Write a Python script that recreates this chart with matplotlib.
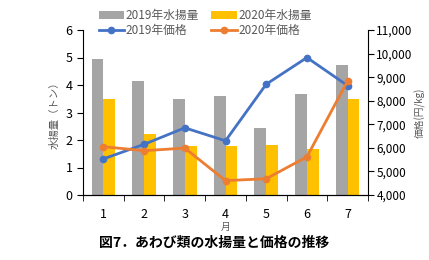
import matplotlib
matplotlib.use("Agg")
import matplotlib.pyplot as plt
import numpy as np

plt.rcParams['font.family'] = ['Noto Sans CJK JP', 'DejaVu Sans']

# データ
months = ["1", "2", "3", "4", "5", "6", "7"]
catch_2019 = [4.93, 4.13, 3.50, 3.60, 2.45, 3.68, 4.73]
catch_2020 = [3.49, 2.21, 1.80, 1.79, 1.81, 1.68, 3.50]
price_2019 = [5530, 6150, 6850, 6300, 8700, 9830, 8640]
price_2020 = [6050, 5880, 5990, 4610, 4690, 5620, 8840]

c_gray = "#A5A5A5"
c_yel = "#FFC000"
c_blue = "#4472C4"
c_orng = "#ED7D31"

fig = plt.figure(figsize=(4.29, 2.6), dpi=100)
ax = fig.add_axes([83/429, 1 - 195/260, 285/429, 165/260])
ax2 = ax.twinx()

x = np.arange(len(months))
w = 0.29
b1 = ax.bar(x - w/2, catch_2019, w, color=c_gray, label="2019年水揚量")
b2 = ax.bar(x + w/2, catch_2020, w, color=c_yel, label="2020年水揚量")
l1, = ax2.plot(x, price_2019, color=c_blue, lw=2, marker="o", ms=4.5, label="2019年価格")
l2, = ax2.plot(x, price_2020, color=c_orng, lw=2, marker="o", ms=4.5, label="2020年価格")

ax.set_xlim(-0.5, 6.5)
ax.set_ylim(0, 6)
ax2.set_ylim(4000, 11000)
ax.set_yticks(range(0, 7))
ax2.set_yticks(range(4000, 11001, 1000))
ax2.set_yticklabels([f"{v:,}" for v in range(4000, 11001, 1000)])

ax.set_xticks(x)
ax.set_xticklabels(months)
ax.set_xticks(np.arange(-0.5, 7, 1), minor=True)
ax.tick_params(axis="x", which="major", length=0, pad=9, labelsize=9)
ax.tick_params(axis="x", which="minor", length=4, direction="out")
ax.tick_params(axis="y", length=4, labelsize=9)
ax2.tick_params(axis="y", length=4, labelsize=8.5, pad=2)

for a in (ax, ax2):
    a.spines["top"].set_visible(False)
ax2.spines["left"].set_visible(False)
ax.spines["right"].set_visible(False)

ax.set_ylabel("水揚量（トン）", color="#595959", fontsize=7.5, labelpad=4)
ax2.set_ylabel("価格(円/kg)", color="#595959", fontsize=7, labelpad=1)
ax.set_xlabel("月", color="#595959", fontsize=7, labelpad=1)

fig.legend(handles=[b1, l1, b2, l2], loc="center", bbox_to_anchor=(205/429, 1 - 23/260),
           ncol=2, frameon=False, fontsize=8.5, labelcolor="#595959",
           handlelength=2.2, handletextpad=0.1, columnspacing=1.0, labelspacing=0.2)

fig.text(0.5, 1 - 243/260, "図7．あわび類の水揚量と価格の推移", ha="center", va="center",
         fontsize=10, fontweight="bold")

fig.savefig("out.png", dpi=100)
